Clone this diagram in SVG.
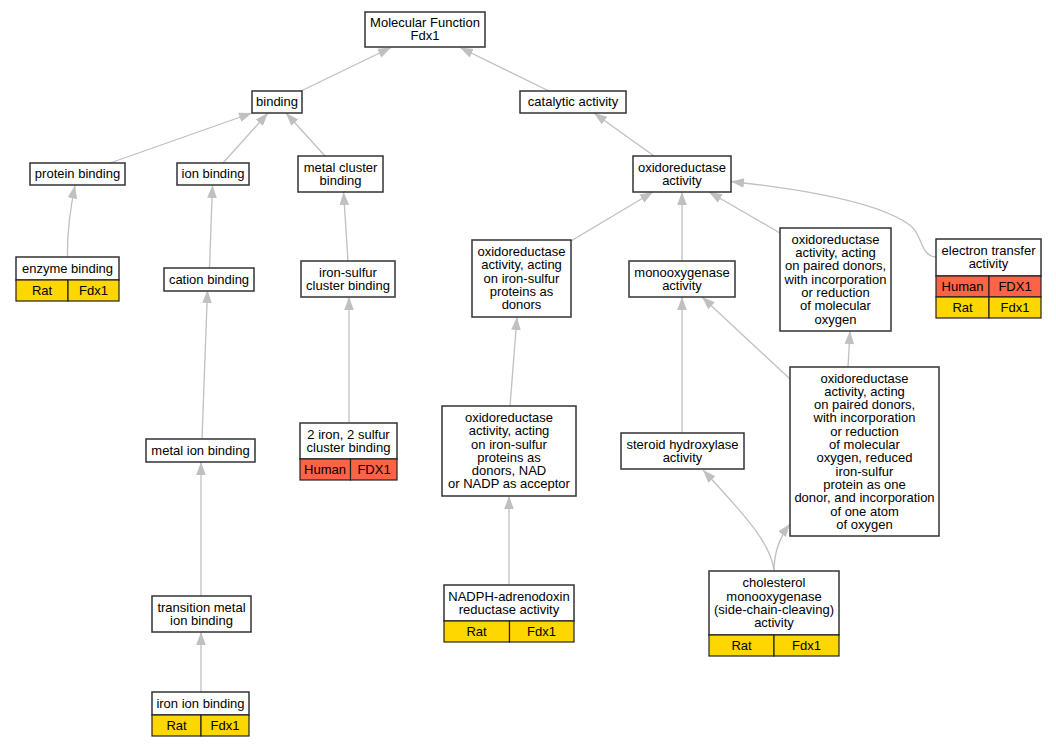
<svg xmlns="http://www.w3.org/2000/svg" width="1056" height="747" viewBox="0 0 1056 747">
<style>
.n rect{fill:#fff;stroke:#333;stroke-width:1.5}
.n rect.h{fill:#ff6347;stroke:#222;stroke-width:1.2}
.n rect.r{fill:#ffd700;stroke:#222;stroke-width:1.2}
text{font-family:"Liberation Sans",Arial,sans-serif;font-size:13px;text-anchor:middle;fill:#000}
.e path{fill:none;stroke:#c0c0c0;stroke-width:1.3;marker-end:url(#a)}
</style>
<defs>
<marker id="a" markerUnits="userSpaceOnUse" markerWidth="15" markerHeight="12" viewBox="0 -6 15 12" refX="13" refY="0" orient="auto">
<path d="M0,-4.8 L13,0 L0,4.8 Z" fill="#c0c0c0"/>
</marker>
</defs>
<rect width="1056" height="747" fill="#fff"/>
<g class="e" id="edges">
<path d="M301,91 L391,47.5"/>
<path d="M549,91 L460,47.5"/>
<path d="M110,163 L252,113"/>
<path d="M223,163 L268,113"/>
<path d="M325,156 L286,113"/>
<path d="M67.5,257 C67,235 70,210 75,185.5"/>
<path d="M209.5,268 L212.5,185"/>
<path d="M348,261 L343.5,192"/>
<path d="M202,439 L207.5,290"/>
<path d="M201,596 L201,462"/>
<path d="M201,692 L201,632"/>
<path d="M349,423 L349,297"/>
<path d="M654,156 L594,113"/>
<path d="M571,241 L653,192"/>
<path d="M682,261 L682,192"/>
<path d="M780,233 L709,192"/>
<path d="M936,257 C920,256 923,236 911,226 C880,202 800,189 731,181.5"/>
<path d="M510,406 L517,317"/>
<path d="M682,433 L682,297"/>
<path d="M790,379 L702,297"/>
<path d="M848,367 L850,331"/>
<path d="M509,585 L509,496"/>
<path d="M774,571 C772,545 745,515 703,470"/>
<path d="M774,571 C774,552 779,538 790,524"/>
</g>
<g class="n" id="mf"><rect x="365" y="12" width="120" height="35"/><text x="425" y="26.9">Molecular Function</text><text x="425" y="40.2">Fdx1</text></g>
<g class="n" id="binding"><rect x="252" y="91" width="50" height="22"/><text x="277" y="106.2">binding</text></g>
<g class="n" id="catalytic"><rect x="520" y="91" width="106" height="22"/><text x="573" y="106.2">catalytic activity</text></g>
<g class="n" id="protein"><rect x="30" y="163" width="95" height="22"/><text x="77.5" y="178.2">protein binding</text></g>
<g class="n" id="ion"><rect x="177" y="163" width="72" height="22"/><text x="213" y="178.2">ion binding</text></g>
<g class="n" id="metalcluster"><rect x="298" y="156" width="85" height="36"/><text x="340.5" y="171.55">metal cluster</text><text x="340.5" y="184.85">binding</text></g>
<g class="n" id="enzyme"><rect x="16" y="257" width="103" height="23"/><text x="67.5" y="272.7">enzyme binding</text><rect class="r" x="16" y="280" width="52" height="21"/><rect class="r" x="68" y="280" width="51" height="21"/><text x="42" y="294.7">Rat</text><text x="93.5" y="294.7">Fdx1</text></g>
<g class="n" id="cation"><rect x="164" y="268" width="90" height="23"/><text x="209" y="283.7">cation binding</text></g>
<g class="n" id="ironsulfur"><rect x="301" y="261" width="94" height="36"/><text x="348" y="276.55">iron-sulfur</text><text x="348" y="289.85">cluster binding</text></g>
<g class="n" id="oxido"><rect x="633" y="156" width="98" height="36"/><text x="682" y="171.55">oxidoreductase</text><text x="682" y="184.85">activity</text></g>
<g class="n" id="donors"><rect x="472" y="240" width="99" height="77"/><text x="521.5" y="256.1">oxidoreductase</text><text x="521.5" y="269.4">activity, acting</text><text x="521.5" y="282.7">on iron-sulfur</text><text x="521.5" y="296">proteins as</text><text x="521.5" y="309.3">donors</text></g>
<g class="n" id="monoox"><rect x="629" y="261" width="106" height="36"/><text x="682" y="276.55">monooxygenase</text><text x="682" y="289.85">activity</text></g>
<g class="n" id="paired"><rect x="780" y="228" width="111" height="103"/><text x="835.5" y="243.8">oxidoreductase</text><text x="835.5" y="257.1">activity, acting</text><text x="835.5" y="270.4">on paired donors,</text><text x="835.5" y="283.7">with incorporation</text><text x="835.5" y="297">or reduction</text><text x="835.5" y="310.3">of molecular</text><text x="835.5" y="323.6">oxygen</text></g>
<g class="n" id="electron"><rect x="936" y="239" width="105" height="37"/><text x="988.5" y="255.05">electron transfer</text><text x="988.5" y="268.35">activity</text><rect class="h" x="936" y="276" width="53" height="21"/><rect class="h" x="989" y="276" width="52" height="21"/><text x="962.5" y="290.7">Human</text><text x="1015" y="290.7">FDX1</text><rect class="r" x="936" y="297" width="53" height="21"/><rect class="r" x="989" y="297" width="52" height="21"/><text x="962.5" y="311.7">Rat</text><text x="1015" y="311.7">Fdx1</text></g>
<g class="n" id="fe2s2"><rect x="300" y="423" width="97" height="36"/><text x="348.5" y="438.55">2 iron, 2 sulfur</text><text x="348.5" y="451.85">cluster binding</text><rect class="h" x="300" y="459" width="50.5" height="21"/><rect class="h" x="350.5" y="459" width="46.5" height="21"/><text x="325" y="473.7">Human</text><text x="374" y="473.7">FDX1</text></g>
<g class="n" id="nad"><rect x="442" y="406" width="134" height="90"/><text x="509" y="421.95">oxidoreductase</text><text x="509" y="435.25">activity, acting</text><text x="509" y="448.55">on iron-sulfur</text><text x="509" y="461.85">proteins as</text><text x="509" y="475.15">donors, NAD</text><text x="509" y="488.45">or NADP as acceptor</text></g>
<g class="n" id="nadph"><rect x="444" y="585" width="130" height="36"/><text x="509" y="600.55">NADPH-adrenodoxin</text><text x="509" y="613.85">reductase activity</text><rect class="r" x="444" y="621" width="65.5" height="21"/><rect class="r" x="509.5" y="621" width="64.5" height="21"/><text x="476.5" y="635.7">Rat</text><text x="541.5" y="635.7">Fdx1</text></g>
<g class="n" id="steroid"><rect x="621" y="433" width="123" height="36"/><text x="682.5" y="448.55">steroid hydroxylase</text><text x="682.5" y="461.85">activity</text></g>
<g class="n" id="reduced"><rect x="790" y="367" width="149" height="169"/><text x="864.5" y="382.55">oxidoreductase</text><text x="864.5" y="395.85">activity, acting</text><text x="864.5" y="409.15">on paired donors,</text><text x="864.5" y="422.45">with incorporation</text><text x="864.5" y="435.75">or reduction</text><text x="864.5" y="449.05">of molecular</text><text x="864.5" y="462.35">oxygen, reduced</text><text x="864.5" y="475.65">iron-sulfur</text><text x="864.5" y="488.95">protein as one</text><text x="864.5" y="502.25">donor, and incorporation</text><text x="864.5" y="515.55">of one atom</text><text x="864.5" y="528.85">of oxygen</text></g>
<g class="n" id="cholesterol"><rect x="709" y="571" width="130" height="64"/><text x="774" y="587.25">cholesterol</text><text x="774" y="600.55">monooxygenase</text><text x="774" y="613.85">(side-chain-cleaving)</text><text x="774" y="627.15">activity</text><rect class="r" x="709" y="635" width="65" height="21"/><rect class="r" x="774" y="635" width="65" height="21"/><text x="741.5" y="649.7">Rat</text><text x="806.5" y="649.7">Fdx1</text></g>
<g class="n" id="metalion"><rect x="146" y="439" width="109" height="23"/><text x="200.5" y="454.7">metal ion binding</text></g>
<g class="n" id="transition"><rect x="152" y="596" width="99" height="36"/><text x="201.5" y="611.55">transition metal</text><text x="201.5" y="624.85">ion binding</text></g>
<g class="n" id="ironion"><rect x="152" y="692" width="97" height="23"/><text x="200.5" y="707.7">iron ion binding</text><rect class="r" x="152" y="715" width="49" height="21"/><rect class="r" x="201" y="715" width="48" height="21"/><text x="176.5" y="729.7">Rat</text><text x="225" y="729.7">Fdx1</text></g>
</svg>
